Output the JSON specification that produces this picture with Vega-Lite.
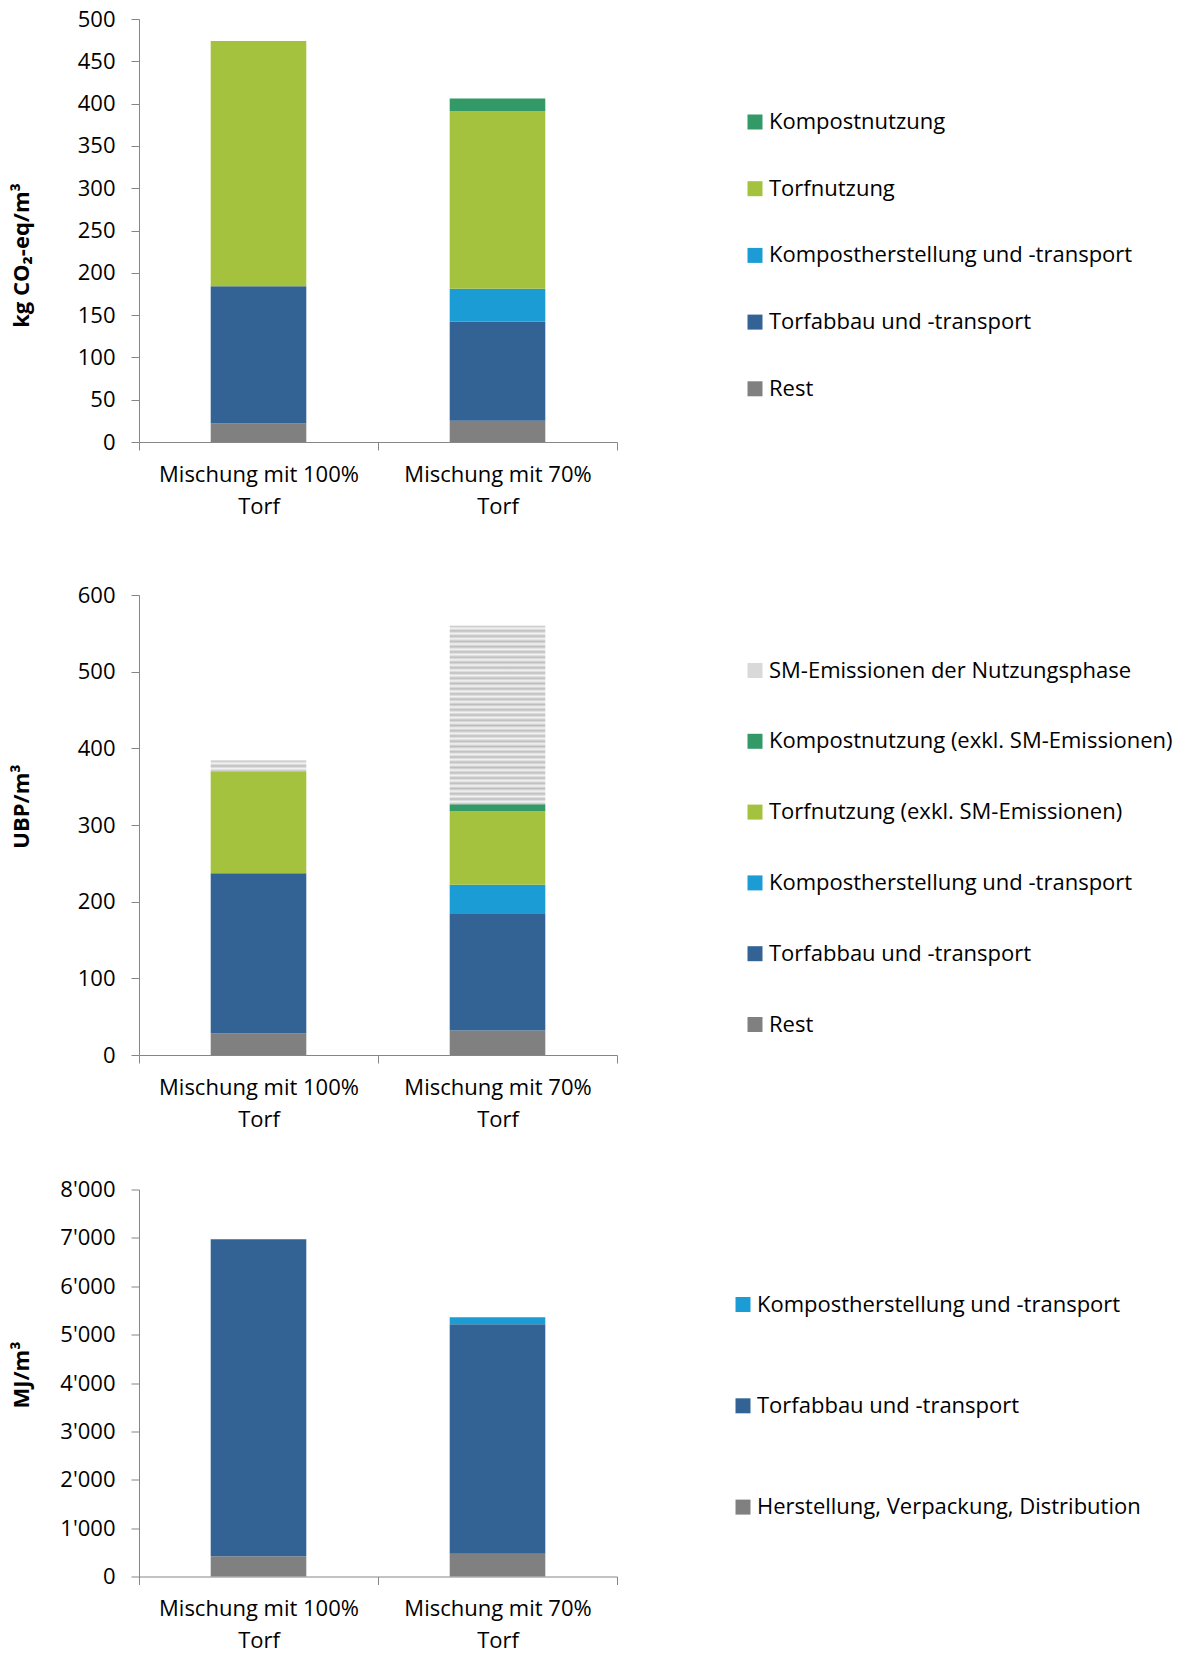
{
  "$schema": "https://vega.github.io/schema/vega-lite/v6.json",
  "padding": {"left": 10, "top": 8, "right": 5, "bottom": 5},
  "datasets": {
    "co2": [
      {"Mischung": "Mischung mit 100% Torf", "Kategorie": "Rest", "Wert": 22, "Rang": 1},
      {"Mischung": "Mischung mit 100% Torf", "Kategorie": "Torfabbau und -transport", "Wert": 162, "Rang": 2},
      {"Mischung": "Mischung mit 100% Torf", "Kategorie": "Torfnutzung", "Wert": 290, "Rang": 4},
      {"Mischung": "Mischung mit 70% Torf", "Kategorie": "Rest", "Wert": 25, "Rang": 1},
      {"Mischung": "Mischung mit 70% Torf", "Kategorie": "Torfabbau und -transport", "Wert": 117, "Rang": 2},
      {"Mischung": "Mischung mit 70% Torf", "Kategorie": "Kompostherstellung und -transport", "Wert": 39, "Rang": 3},
      {"Mischung": "Mischung mit 70% Torf", "Kategorie": "Torfnutzung", "Wert": 210, "Rang": 4},
      {"Mischung": "Mischung mit 70% Torf", "Kategorie": "Kompostnutzung", "Wert": 15, "Rang": 5}
    ],
    "ubp": [
      {"Mischung": "Mischung mit 100% Torf", "Kategorie": "Rest", "Wert": 28, "Rang": 1},
      {"Mischung": "Mischung mit 100% Torf", "Kategorie": "Torfabbau und -transport", "Wert": 209, "Rang": 2},
      {"Mischung": "Mischung mit 100% Torf", "Kategorie": "Torfnutzung (exkl. SM-Emissionen)", "Wert": 133, "Rang": 4},
      {"Mischung": "Mischung mit 100% Torf", "Kategorie": "SM-Emissionen der Nutzungsphase", "Wert": 14, "Rang": 6},
      {"Mischung": "Mischung mit 70% Torf", "Kategorie": "Rest", "Wert": 32, "Rang": 1},
      {"Mischung": "Mischung mit 70% Torf", "Kategorie": "Torfabbau und -transport", "Wert": 152, "Rang": 2},
      {"Mischung": "Mischung mit 70% Torf", "Kategorie": "Kompostherstellung und -transport", "Wert": 38, "Rang": 3},
      {"Mischung": "Mischung mit 70% Torf", "Kategorie": "Torfnutzung (exkl. SM-Emissionen)", "Wert": 96, "Rang": 4},
      {"Mischung": "Mischung mit 70% Torf", "Kategorie": "Kompostnutzung (exkl. SM-Emissionen)", "Wert": 9, "Rang": 5},
      {"Mischung": "Mischung mit 70% Torf", "Kategorie": "SM-Emissionen der Nutzungsphase", "Wert": 233, "Rang": 6}
    ],
    "mj": [
      {"Mischung": "Mischung mit 100% Torf", "Kategorie": "Herstellung, Verpackung, Distribution", "Wert": 420, "Rang": 1},
      {"Mischung": "Mischung mit 100% Torf", "Kategorie": "Torfabbau und -transport", "Wert": 6550, "Rang": 2},
      {"Mischung": "Mischung mit 70% Torf", "Kategorie": "Herstellung, Verpackung, Distribution", "Wert": 470, "Rang": 1},
      {"Mischung": "Mischung mit 70% Torf", "Kategorie": "Torfabbau und -transport", "Wert": 4745, "Rang": 2},
      {"Mischung": "Mischung mit 70% Torf", "Kategorie": "Kompostherstellung und -transport", "Wert": 145, "Rang": 3}
    ]
  },
  "bounds": "flush",
  "spacing": 153,
  "resolve": {"scale": {"color": "independent", "x": "independent", "y": "independent"}, "legend": {"color": "independent"}},
  "vconcat": [
    {
      "width": 478,
      "height": 423,
      "data": {"name": "co2"},
      "mark": {"type": "bar", "width": {"band": 0.4}},
      "encoding": {
        "x": {"field": "Mischung", "type": "nominal", "sort": null,
          "scale": {"paddingInner": 0, "paddingOuter": 0},
          "axis": {"title": null, "labelAngle": 0, "tickBand": "extent", "labelLineHeight": 32, "labelPadding": 14, "labelLimit": 500,
            "labelExpr": "datum.label ? [replace(datum.label, ' Torf', ''), 'Torf'] : ''"}},
        "y": {"field": "Wert", "type": "quantitative", "stack": "zero",
          "scale": {"domain": [0, 500], "nice": false},
          "axis": {"title": "kg CO₂-eq/m³", "values": [0, 50, 100, 150, 200, 250, 300, 350, 400, 450, 500], "labelPadding": 16,
            "titleX": -111, "titleY": 236, "titleBaseline": "alphabetic"}},
        "color": {"field": "Kategorie", "type": "nominal",
          "scale": {"domain": ["Kompostnutzung", "Torfnutzung", "Kompostherstellung und -transport", "Torfabbau und -transport", "Rest"],
            "range": ["#339966", "#a4c23d", "#1b9cd4", "#336394", "#808080"]},
          "legend": {"title": null, "orient": "none", "legendX": 605, "legendY": 92, "rowPadding": 44.7}},
        "order": {"field": "Rang", "type": "quantitative"}
      }
    },
    {
      "bounds": "flush",
      "spacing": 134.5,
      "resolve": {"scale": {"color": "independent", "x": "independent", "y": "independent"}, "legend": {"color": "independent"}},
      "vconcat": [
        {
          "width": 478,
          "height": 460,
          "data": {"name": "ubp"},
          "mark": {"type": "bar", "width": {"band": 0.4}},
          "encoding": {
            "x": {"field": "Mischung", "type": "nominal", "sort": null,
              "scale": {"paddingInner": 0, "paddingOuter": 0},
              "axis": {"title": null, "labelAngle": 0, "tickBand": "extent", "labelLineHeight": 32, "labelPadding": 14, "labelLimit": 500,
                "labelExpr": "datum.label ? [replace(datum.label, ' Torf', ''), 'Torf'] : ''"}},
            "y": {"field": "Wert", "type": "quantitative", "stack": "zero",
              "scale": {"domain": [0, 600], "nice": false},
              "axis": {"title": "UBP/m³", "values": [0, 100, 200, 300, 400, 500, 600], "labelPadding": 16,
                "titleX": -111, "titleY": 211, "titleBaseline": "alphabetic"}},
            "color": {
              "condition": [
                {"test": "datum.Kategorie === 'SM-Emissionen der Nutzungsphase' && datum.Mischung === 'Mischung mit 100% Torf'",
                  "value": {"gradient": "linear", "x1": 0, "y1": 0, "x2": 0, "y2": 1, "stops": [
                    {"offset": 0, "color": "#bdbdbd"}, {"offset": 0.25, "color": "#f4f4f4"}, {"offset": 0.5, "color": "#bdbdbd"}, {"offset": 0.75, "color": "#f4f4f4"}, {"offset": 1, "color": "#bdbdbd"}]}},
                {"test": "datum.Kategorie === 'SM-Emissionen der Nutzungsphase'",
                  "value": {"gradient": "linear", "x1": 0, "y1": 0, "x2": 0, "y2": 1, "stops": [
                    {"offset": 0, "color": "#bdbdbd"}, {"offset": 0.0147, "color": "#f4f4f4"}, {"offset": 0.0294, "color": "#bdbdbd"}, {"offset": 0.0441, "color": "#f4f4f4"},
                    {"offset": 0.0588, "color": "#bdbdbd"}, {"offset": 0.0735, "color": "#f4f4f4"}, {"offset": 0.0882, "color": "#bdbdbd"}, {"offset": 0.1029, "color": "#f4f4f4"},
                    {"offset": 0.1176, "color": "#bdbdbd"}, {"offset": 0.1324, "color": "#f4f4f4"}, {"offset": 0.1471, "color": "#bdbdbd"}, {"offset": 0.1618, "color": "#f4f4f4"},
                    {"offset": 0.1765, "color": "#bdbdbd"}, {"offset": 0.1912, "color": "#f4f4f4"}, {"offset": 0.2059, "color": "#bdbdbd"}, {"offset": 0.2206, "color": "#f4f4f4"},
                    {"offset": 0.2353, "color": "#bdbdbd"}, {"offset": 0.25, "color": "#f4f4f4"}, {"offset": 0.2647, "color": "#bdbdbd"}, {"offset": 0.2794, "color": "#f4f4f4"},
                    {"offset": 0.2941, "color": "#bdbdbd"}, {"offset": 0.3088, "color": "#f4f4f4"}, {"offset": 0.3235, "color": "#bdbdbd"}, {"offset": 0.3382, "color": "#f4f4f4"},
                    {"offset": 0.3529, "color": "#bdbdbd"}, {"offset": 0.3676, "color": "#f4f4f4"}, {"offset": 0.3824, "color": "#bdbdbd"}, {"offset": 0.3971, "color": "#f4f4f4"},
                    {"offset": 0.4118, "color": "#bdbdbd"}, {"offset": 0.4265, "color": "#f4f4f4"}, {"offset": 0.4412, "color": "#bdbdbd"}, {"offset": 0.4559, "color": "#f4f4f4"},
                    {"offset": 0.4706, "color": "#bdbdbd"}, {"offset": 0.4853, "color": "#f4f4f4"}, {"offset": 0.5, "color": "#bdbdbd"}, {"offset": 0.5147, "color": "#f4f4f4"},
                    {"offset": 0.5294, "color": "#bdbdbd"}, {"offset": 0.5441, "color": "#f4f4f4"}, {"offset": 0.5588, "color": "#bdbdbd"}, {"offset": 0.5735, "color": "#f4f4f4"},
                    {"offset": 0.5882, "color": "#bdbdbd"}, {"offset": 0.6029, "color": "#f4f4f4"}, {"offset": 0.6176, "color": "#bdbdbd"}, {"offset": 0.6324, "color": "#f4f4f4"},
                    {"offset": 0.6471, "color": "#bdbdbd"}, {"offset": 0.6618, "color": "#f4f4f4"}, {"offset": 0.6765, "color": "#bdbdbd"}, {"offset": 0.6912, "color": "#f4f4f4"},
                    {"offset": 0.7059, "color": "#bdbdbd"}, {"offset": 0.7206, "color": "#f4f4f4"}, {"offset": 0.7353, "color": "#bdbdbd"}, {"offset": 0.75, "color": "#f4f4f4"},
                    {"offset": 0.7647, "color": "#bdbdbd"}, {"offset": 0.7794, "color": "#f4f4f4"}, {"offset": 0.7941, "color": "#bdbdbd"}, {"offset": 0.8088, "color": "#f4f4f4"},
                    {"offset": 0.8235, "color": "#bdbdbd"}, {"offset": 0.8382, "color": "#f4f4f4"}, {"offset": 0.8529, "color": "#bdbdbd"}, {"offset": 0.8676, "color": "#f4f4f4"},
                    {"offset": 0.8824, "color": "#bdbdbd"}, {"offset": 0.8971, "color": "#f4f4f4"}, {"offset": 0.9118, "color": "#bdbdbd"}, {"offset": 0.9265, "color": "#f4f4f4"},
                    {"offset": 0.9412, "color": "#bdbdbd"}, {"offset": 0.9559, "color": "#f4f4f4"}, {"offset": 0.9706, "color": "#bdbdbd"}, {"offset": 0.9853, "color": "#f4f4f4"},
                    {"offset": 1, "color": "#bdbdbd"}]}}
              ],
              "field": "Kategorie", "type": "nominal",
              "scale": {"domain": ["SM-Emissionen der Nutzungsphase", "Kompostnutzung (exkl. SM-Emissionen)", "Torfnutzung (exkl. SM-Emissionen)", "Kompostherstellung und -transport", "Torfabbau und -transport", "Rest"],
                "range": ["#d9d9d9", "#339966", "#a4c23d", "#1b9cd4", "#336394", "#808080"]},
              "legend": {"title": null, "orient": "none", "legendX": 605, "legendY": 64.5, "rowPadding": 48.8,
                "encode": {"symbols": {"update": {"fill": [
                  {"test": "datum.label === 'SM-Emissionen der Nutzungsphase'",
                    "value": {"gradient": "linear", "x1": 0, "y1": 0, "x2": 0, "y2": 1, "stops": [
                      {"offset": 0, "color": "#bdbdbd"}, {"offset": 0.1667, "color": "#f4f4f4"}, {"offset": 0.3333, "color": "#bdbdbd"}, {"offset": 0.5, "color": "#f4f4f4"}, {"offset": 0.6667, "color": "#bdbdbd"}, {"offset": 0.8333, "color": "#f4f4f4"}, {"offset": 1, "color": "#bdbdbd"}]}},
                  {"test": "datum.label === 'Kompostnutzung (exkl. SM-Emissionen)'", "value": "#339966"},
                  {"test": "datum.label === 'Torfnutzung (exkl. SM-Emissionen)'", "value": "#a4c23d"},
                  {"test": "datum.label === 'Kompostherstellung und -transport'", "value": "#1b9cd4"},
                  {"test": "datum.label === 'Torfabbau und -transport'", "value": "#336394"},
                  {"value": "#808080"}
                ]}}}}},
            "order": {"field": "Rang", "type": "quantitative"}
          }
        },
        {
          "width": 478,
          "height": 387,
          "data": {"name": "mj"},
          "mark": {"type": "bar", "width": {"band": 0.4}},
          "encoding": {
            "x": {"field": "Mischung", "type": "nominal", "sort": null,
              "scale": {"paddingInner": 0, "paddingOuter": 0},
              "axis": {"title": null, "labelAngle": 0, "tickBand": "extent", "labelLineHeight": 32, "labelPadding": 14, "labelLimit": 500,
                "labelExpr": "datum.label ? [replace(datum.label, ' Torf', ''), 'Torf'] : ''"}},
            "y": {"field": "Wert", "type": "quantitative", "stack": "zero",
              "scale": {"domain": [0, 8000], "nice": false},
              "axis": {"title": "MJ/m³", "values": [0, 1000, 2000, 3000, 4000, 5000, 6000, 7000, 8000], "labelPadding": 16,
                "labelExpr": "replace(format(datum.value, ','), ',', \"'\")",
                "titleX": -111, "titleY": 185, "titleBaseline": "alphabetic"}},
            "color": {"field": "Kategorie", "type": "nominal",
              "scale": {"domain": ["Kompostherstellung und -transport", "Torfabbau und -transport", "Herstellung, Verpackung, Distribution"],
                "range": ["#1b9cd4", "#336394", "#808080"]},
              "legend": {"title": null, "orient": "none", "legendX": 593, "legendY": 104, "rowPadding": 79.3}},
            "order": {"field": "Rang", "type": "quantitative"}
          }
        }
      ]
    }
  ],
  "config": {
    "view": {"stroke": null},
    "font": "Open Sans",
    "axis": {"labelFont": "Open Sans", "labelFontSize": 22, "labelColor": "#000000", "domainColor": "#868686", "tickColor": "#868686",
      "tickSize": 8, "grid": false, "titleFont": "Open Sans", "titleFontSize": 22, "titleFontWeight": "bold", "titleColor": "#000000"},
    "legend": {"labelFont": "Open Sans", "labelFontSize": 22, "labelColor": "#000000", "symbolType": "square", "symbolSize": 225,
      "symbolStrokeWidth": 0, "labelOffset": 3, "labelLimit": 600}
  }
}
